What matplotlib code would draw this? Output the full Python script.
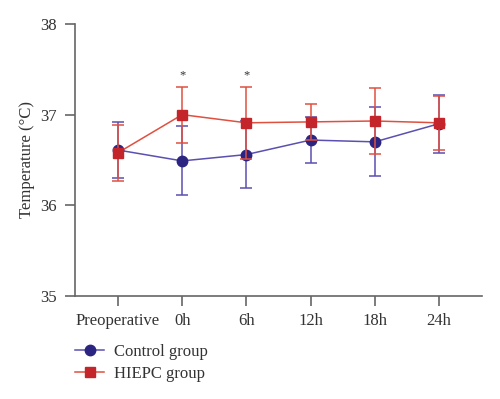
import matplotlib
matplotlib.use("Agg")
import matplotlib.pyplot as plt
from matplotlib.lines import Line2D

categories = ["Preoperative", "0h", "6h", "12h", "18h", "24h"]
control_mean = [36.61, 36.49, 36.56, 36.72, 36.70, 36.90]
control_sd = [0.31, 0.38, 0.37, 0.25, 0.38, 0.32]
hiepc_mean = [36.58, 37.00, 36.91, 36.92, 36.93, 36.91]
hiepc_sd = [0.31, 0.31, 0.40, 0.20, 0.36, 0.30]
star_cats = ["0h", "6h"]
star_level = 37.43

plt.rcParams["font.family"] = ["Liberation Serif", "DejaVu Serif"]

fig = plt.figure(figsize=(5.0, 3.99), dpi=100)
ax = fig.add_axes([0.15, 0.258, 0.814, 0.682])

x = list(range(len(categories)))
blue_line = "#5a50b0"
blue_mark = "#2b2581"
red_line = "#e05040"
red_mark = "#c4252a"

ax.errorbar(x, control_mean, yerr=control_sd, color=blue_line, lw=1.1,
            marker="o", ms=7.5, mfc=blue_mark, mec=blue_mark,
            capsize=4.5, capthick=1.1, elinewidth=1.1, zorder=3)
ax.errorbar(x, hiepc_mean, yerr=hiepc_sd, color=red_line, lw=1.1,
            marker="s", ms=7.5, mfc=red_mark, mec=red_mark,
            capsize=4.5, capthick=1.1, elinewidth=1.1, zorder=4)

for c in star_cats:
    ax.text(categories.index(c), star_level, "*", ha="center", va="center",
            fontsize=9, color="#333333")

ax.set_xlim(-0.67, 5.67)
ax.set_ylim(35, 38)
ax.set_yticks([35, 36, 37, 38])
ax.set_xticks(x)
ax.set_xticklabels(categories)
ax.set_ylabel("Temperature (°C)", fontsize=12, color="#333333", labelpad=4)

for s in ["top", "right"]:
    ax.spines[s].set_visible(False)
for s in ["left", "bottom"]:
    ax.spines[s].set_color("#666666")
    ax.spines[s].set_linewidth(1.2)
ax.tick_params(axis="y", length=7, width=1.2, color="#666666", labelsize=12,
               labelcolor="#333333", pad=6)
ax.tick_params(axis="x", length=7, width=1.2, color="#666666", labelsize=12,
               labelcolor="#333333", pad=5)

handles = [
    Line2D([], [], color=blue_line, lw=1.1, marker="o", ms=7.5, mfc=blue_mark, mec=blue_mark),
    Line2D([], [], color=red_line, lw=1.1, marker="s", ms=7.5, mfc=red_mark, mec=red_mark),
]
leg = fig.legend(handles, ["Control group", "HIEPC group"], loc="upper left",
                 bbox_to_anchor=(0.15, 0.138), frameon=False,
                 fontsize=12, handlelength=1.75, handletextpad=0.6, labelspacing=0.35,
                 borderaxespad=0, borderpad=0)
for t in leg.get_texts():
    t.set_color("#333333")

fig.savefig("out.png", dpi=100)
